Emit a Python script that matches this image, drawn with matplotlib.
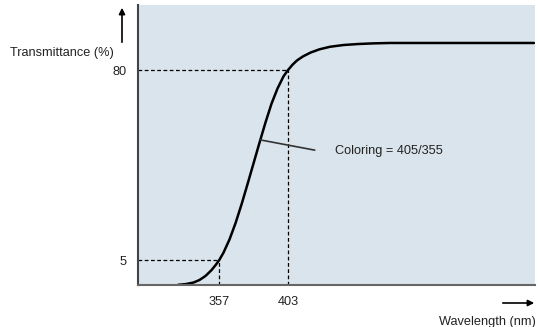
import numpy as np
import matplotlib.pyplot as plt
from matplotlib.patches import FancyArrowPatch

plt.rcParams['font.family'] = ['Liberation Sans', 'DejaVu Sans']

# curve (wavelength nm, transmittance %)
wavelength = [329.7, 335, 340, 344, 348, 352, 355, 357.2, 360, 364, 368, 372, 376, 380,
              384, 388, 392, 396, 400, 403, 406, 409, 413, 418, 424, 431, 440,
              450, 460, 471, 500, 530, 567]
transmittance = [-4.8, -4.5, -3.9, -2.9, -1.3, 1.0, 3.2, 5.0, 7.9, 13.1, 19.5, 26.9, 34.9, 43.1,
                 51.3, 59.3, 66.7, 72.7, 77.5, 80.0, 82.1, 83.8, 85.4, 86.9, 88.2, 89.2, 89.9,
                 90.3, 90.55, 90.7, 90.7, 90.7, 90.7]

marks_x = [357, 403]
marks_y = [5, 80]
note = "Coloring = 405/355"

fig = plt.figure(figsize=(5.38, 3.27), dpi=100)
ax = fig.add_axes([138/538, 42/327, 397/538, 280/327])
ax.set_facecolor('#d9e4ec')

ax.plot(wavelength, transmittance, color='black', lw=1.8, solid_capstyle='round',
        solid_joinstyle='round')

x0, y0 = 303, -4.87
ax.set_xlim(x0, 567.7)
ax.set_ylim(y0, 105.7)

for mx, my in zip(marks_x, marks_y):
    ax.plot([x0, mx], [my, my], color='black', lw=0.9, ls=(0, (3, 2)))
    ax.plot([mx, mx], [y0, my], color='black', lw=0.9, ls=(0, (3, 2)))

# annotation
ax.plot([384.8, 420.7], [52.4, 48.4], color='#333333', lw=1.2)
ax.text(434.5, 48.0, note, fontsize=9.2, va='center', ha='left', color='#222222')

ax.set_xticks(marks_x)
ax.set_yticks(marks_y)
ax.tick_params(length=0, labelsize=9.2, labelcolor='#222222', pad=8)
ax.tick_params(axis='y', pad=8)

for s in ['top', 'right']:
    ax.spines[s].set_visible(False)
ax.spines['left'].set_color('#444444')
ax.spines['left'].set_linewidth(1.5)
ax.spines['bottom'].set_color('#666666')
ax.spines['bottom'].set_linewidth(1.5)

# axis arrows and titles
fig.text(10/538, 1 - 53/327, "Transmittance (%)", fontsize=9.2, va='center', ha='left',
         color='#222222')
fig.text(536/538, 1 - 322/327, "Wavelength (nm)", fontsize=9.2, va='center', ha='right',
         color='#222222')
fig.add_artist(FancyArrowPatch(
    (122/538, 1 - 45/327), (122/538, 1 - 5/327), transform=fig.transFigure,
    arrowstyle='-|>', mutation_scale=9, lw=1.2, color='black'))
fig.add_artist(FancyArrowPatch(
    (500/538, 1 - 303/327), (537/538, 1 - 303/327), transform=fig.transFigure,
    arrowstyle='-|>', mutation_scale=9, lw=1.2, color='black'))

fig.savefig('out.png', dpi=100)
